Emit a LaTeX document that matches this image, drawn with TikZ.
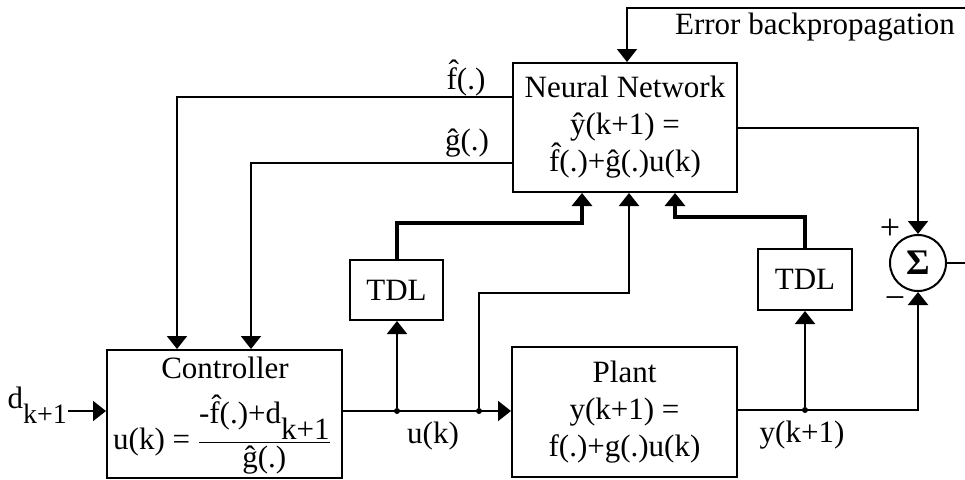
\documentclass[tikz,border=0pt]{standalone}
\usepackage{amsmath}
\usepackage{fontspec}
\setmainfont{Liberation Serif}
\usetikzlibrary{arrows.meta}
\newcommand{\lowidx}[1]{\raisebox{-0.5em}{#1}}

\begin{document}
\begin{tikzpicture}[x=1pt,y=-1pt,
  font=\fontsize{31}{37}\selectfont,
  block/.style={draw,line width=2pt,align=center,inner sep=0pt},
  wire/.style={line width=2pt},
  thickwire/.style={line width=4pt},
  tip/.style={-{Triangle[width=20pt,length=13pt]}},
  dot/.style={circle,fill,inner sep=0pt,minimum size=6pt}]
  \useasboundingbox (0,0) rectangle (965,479);

  % blocks
  \node[block,minimum width=224pt,minimum height=129pt] (nn) at (625,127.5)
    {Neural Network\\\^{y}(k+1) =\\\^{f}(.)+\^{g}(.)u(k)};
  \node[block,minimum width=235pt,minimum height=128pt] (ctrl) at (224.5,414) {};
  \node[anchor=base] (ctrltitle) at (225,378) {Controller};
  \node[anchor=base] (ulaw) at (222,449)
    {u(k) = $\dfrac{\text{-\^{f}(.)+d\lowidx{k+1}}}{\text{\^{g}(.)}}$};
  \node[block,minimum width=225pt,minimum height=130pt] (plant) at (624.5,412)
    {Plant\\y(k+1) =\\f(.)+g(.)u(k)};
  \node[block,minimum width=93pt,minimum height=60pt] (tdlA) at (396.5,290) {TDL};
  \node[block,minimum width=94pt,minimum height=61pt] (tdlB) at (805,279.5) {TDL};
  \node[draw,circle,line width=2pt,minimum size=56pt,inner sep=0pt] (sum) at (918,263)
    {\fontsize{36}{36}\selectfont\textbf{Σ}};

  % junctions and free ends
  \node[dot] (uA) at (397,411) {};
  \node[dot] (uB) at (479,411) {};
  \node[dot] (yA) at (805,410) {};
  \coordinate (errin) at (965,8);
  \coordinate (out) at (965,263);

  % labels
  \node[anchor=base east,inner sep=1pt] (din) at (68,408)
    {d\lowidx{\fontsize{28}{28}\selectfont k+1}};
  \node (flab) at (466,78) {\^{f}(.)};
  \node (glab) at (467,143) {\^{g}(.)};
  \node (ulab) at (433,436) {u(k)};
  \node (ylab) at (802,435) {y(k+1)};
  \node (errlab) at (815,27) {Error backpropagation};
  \node (plus) at (890,229) {\fontsize{36}{36}\selectfont +};
  \node (minus) at (895,303) {\fontsize{36}{36}\selectfont −};

  % connectors
  \draw[wire,tip] (din.base east |- uA) -- (ctrl.west |- uA);
  \draw[wire,tip] (ctrl.east |- uA) -- (plant.west |- uA);
  \draw[wire,tip] (uA) -- (tdlA.south -| uA);
  \draw[thickwire,tip] (tdlA.north) -- ++(0,-36) -| ([xshift=-43pt]nn.south);
  \draw[wire,tip] (uB) -- ++(0,-118) -| ([xshift=4pt]nn.south);
  \draw[thickwire,tip] (tdlB.north) -- ++(0,-31) -| ([xshift=50pt]nn.south);
  \draw[wire,tip] (yA) -- (tdlB.south);
  \draw[wire,tip] (plant.east |- yA) -| (sum.south);
  \draw[wire,tip] (nn.east) -| (sum.north);
  \draw[wire] (sum.east) -- (out);
  \draw[wire,tip] (errin) -| ([xshift=2pt]nn.north);
  \draw[wire,tip] (nn.west |- 0,97) -| (ctrl.north -| 177,0);
  \draw[wire,tip] (nn.west |- 0,163) -| (ctrl.north -| 251,0);
\end{tikzpicture}
\end{document}
